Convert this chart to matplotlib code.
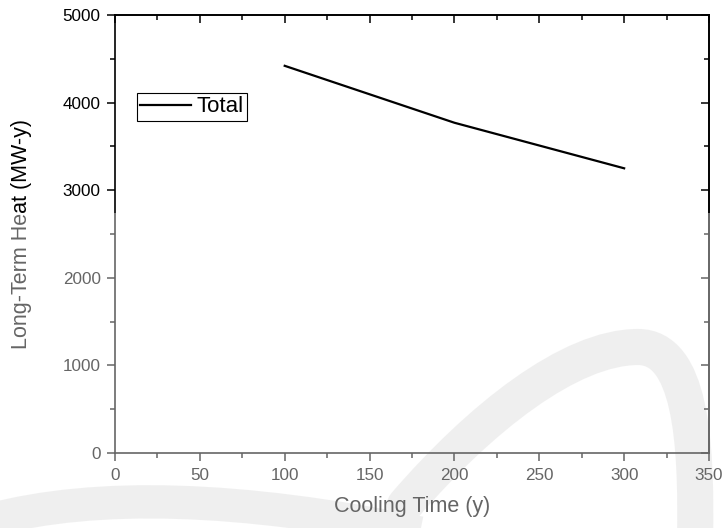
import numpy as np
import matplotlib
matplotlib.use('Agg')
import matplotlib.pyplot as plt
from matplotlib.patches import Rectangle, PathPatch
from matplotlib.path import Path
from matplotlib.ticker import MultipleLocator

plt.rcParams['font.family'] = ['Liberation Sans', 'DejaVu Sans']

# data
cooling_time = [100, 200, 300]
total_heat = [4420, 3770, 3250]
series_label = 'Total'
xlabel = 'Cooling Time (y)'
ylabel = 'Long-Term Heat (MW-y)'

W, H = 726, 528
fig = plt.figure(figsize=(W / 100, H / 100), dpi=100)
ax = fig.add_axes([115 / W, (H - 453) / H, 594 / W, 438 / H])
ax.patch.set_visible(False)

ax.plot(cooling_time, total_heat, color='black', lw=1.6, label=series_label)

ax.set_xlim(0, 350)
ax.set_ylim(0, 5000)
ax.xaxis.set_major_locator(MultipleLocator(50))
ax.xaxis.set_minor_locator(MultipleLocator(25))
ax.yaxis.set_major_locator(MultipleLocator(1000))
ax.yaxis.set_minor_locator(MultipleLocator(500))

for sp in ax.spines.values():
    sp.set_linewidth(1.2)
ax.tick_params(which='major', direction='out', length=6, width=1.1, labelsize=12.3)
ax.tick_params(axis='x', which='major', pad=5)
ax.tick_params(axis='y', which='major', pad=4.3)
ax.tick_params(which='minor', direction='out', length=3.5, width=1.1)

# top / right ticks point inward
top = ax.secondary_xaxis('top')
top.xaxis.set_major_locator(MultipleLocator(50))
top.xaxis.set_minor_locator(MultipleLocator(25))
top.tick_params(which='major', direction='in', length=6, width=1.1, labeltop=False)
top.tick_params(which='minor', direction='in', length=3.5, width=1.1)
right = ax.secondary_yaxis('right')
right.yaxis.set_major_locator(MultipleLocator(1000))
right.yaxis.set_minor_locator(MultipleLocator(500))
right.tick_params(which='major', direction='in', length=6, width=1.1, labelright=False)
right.tick_params(which='minor', direction='in', length=3.5, width=1.1)
for s in (top, right):
    for sp in s.spines.values():
        sp.set_linewidth(1.2)

ax.set_xlabel(xlabel, fontsize=15.5)
ax.set_ylabel(ylabel, fontsize=15.5)
ax.xaxis.set_label_coords(0.5, -0.098)
ax.yaxis.set_label_coords(-0.14, 0.5)

leg = ax.legend(loc='upper left', bbox_to_anchor=(0.037, 0.822), borderaxespad=0,
                fontsize=16, handlelength=2.3, handletextpad=0.25,
                borderpad=0.15, fancybox=False, framealpha=1, edgecolor='black')
leg.get_frame().set_linewidth(0.8)

# faint watermark behind the plot (pixel coords, y up)
to_fig = matplotlib.transforms.Affine2D().scale(1 / W, 1 / H) + fig.transFigure
wm = '#e6e6e6'
arc_path = Path([(405, 23), (480, 110), (570, 181), (638, 181),
                 (690, 181), (697, 90), (695, -12)],
                [Path.MOVETO] + [Path.CURVE4] * 6)
fig.patches.append(PathPatch(arc_path, transform=to_fig, fill=False, edgecolor=wm,
                             lw=26, capstyle='round', zorder=-2))
band_path = Path([(-10, 8), (150, 50), (420, -5)],
                 [Path.MOVETO, Path.CURVE3, Path.CURVE3])
fig.patches.append(PathPatch(band_path, transform=to_fig, fill=False, edgecolor=wm,
                             lw=24, zorder=-2))

# lower part of the scan is washed out
fig.patches.append(Rectangle((0, 0), 1, (H - 213) / H, transform=fig.transFigure,
                             color='white', alpha=0.4, zorder=100, lw=0))

fig.savefig('out.png', dpi=100)
